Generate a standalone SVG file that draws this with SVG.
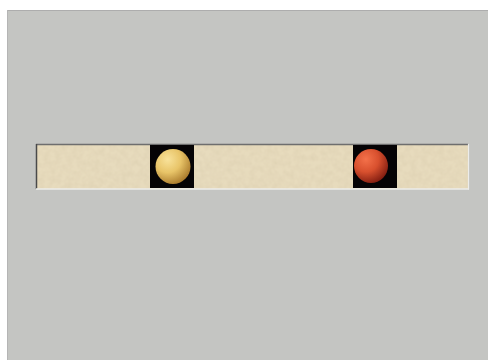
<svg xmlns="http://www.w3.org/2000/svg" width="488" height="360" viewBox="0 0 488 360">
  <style>
    .panel { fill: #c4c5c2; }
    .bar { fill: #e7dbbd; }
    .cell { fill: #050305; }
  </style>
  <defs>
    <radialGradient id="goldBall" cx="0.35" cy="0.3" r="0.75">
      <stop offset="0" stop-color="#f8e29a"/>
      <stop offset="0.5" stop-color="#e8c468"/>
      <stop offset="1" stop-color="#a8782a"/>
    </radialGradient>
    <radialGradient id="redBall" cx="0.35" cy="0.3" r="0.75">
      <stop offset="0" stop-color="#f4714a"/>
      <stop offset="0.5" stop-color="#d8502e"/>
      <stop offset="1" stop-color="#801c10"/>
    </radialGradient>
    <filter id="paper" x="0" y="0" width="1" height="1">
      <feTurbulence type="fractalNoise" baseFrequency="0.18" numOctaves="2" seed="3" result="n"/>
      <feColorMatrix in="n" type="matrix" values="0 0 0 0 0.55  0 0 0 0 0.47  0 0 0 0 0.3  0 0 0 0.35 -0.1" result="c"/>
      <feComposite in="c" in2="SourceGraphic" operator="in" result="t"/>
      <feMerge><feMergeNode in="SourceGraphic"/><feMergeNode in="t"/></feMerge>
    </filter>
  </defs>
  <rect width="488" height="360" fill="#ffffff"/>
  <g id="panel">
    <rect class="panel" x="7" y="10" width="481" height="350"/>
    <line x1="7" y1="10.5" x2="488" y2="10.5" stroke="#adadad" stroke-width="1"/>
    <line x1="7.5" y1="10" x2="7.5" y2="360" stroke="#b5b5b5" stroke-width="1"/>
  </g>
  <g id="bar">
    <rect class="bar" x="37" y="144" width="431" height="45" filter="url(#paper)"/>
    <line x1="36" y1="144.5" x2="468" y2="144.5" stroke="#6e6e6e" stroke-width="1.5"/>
    <line x1="36.5" y1="144" x2="36.5" y2="189" stroke="#4a4a4a" stroke-width="1.5"/>
    <line x1="36" y1="189" x2="469" y2="189" stroke="#ececea" stroke-width="1.5"/>
    <line x1="468.5" y1="144" x2="468.5" y2="189.5" stroke="#ececea" stroke-width="1.2"/>
  </g>
  <g id="slot-gold">
    <rect class="cell" x="150" y="145" width="44" height="43"/>
    <circle cx="173" cy="166.5" r="17.5" fill="url(#goldBall)"/>
  </g>
  <g id="slot-red">
    <rect class="cell" x="353" y="145" width="44" height="43"/>
    <circle cx="371" cy="166" r="17" fill="url(#redBall)"/>
  </g>
  <g id="connectors"/>
</svg>
